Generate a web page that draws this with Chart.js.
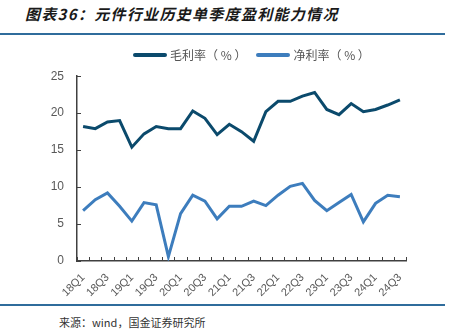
<!DOCTYPE html>
<html>
<head>
<meta charset="utf-8">
<script src="https://cdn.jsdelivr.net/npm/chart.js@4.4.1/dist/chart.umd.min.js"></script>
<style>
  body { margin: 0; background: #fff; width: 453px; height: 331px; position: relative; overflow: hidden;
         font-family: "Noto Sans CJK SC", "Noto Sans", sans-serif; }
  #title { position: absolute; left: 25px; top: 3px; font-size: 15px; font-weight: bold; font-style: italic;
           color: #1a1a1a; letter-spacing: 1.3px; }
  .rule { position: absolute; left: 0; width: 445px; height: 2px; background: #2f6c9c; }
  #legend { position: absolute; top: 46px; left: 133px; display: flex; align-items: center;
            font-size: 12px; color: #555; z-index: 2; }
  .sw { display: inline-block; width: 34px; height: 4px; border-radius: 2px; margin-right: 3px; }
  #source { position: absolute; left: 59px; top: 314px; font-size: 11px; color: #333; }
  #wrap { position: absolute; left: 0; top: 56px; width: 453px; height: 246px; }
</style>
</head>
<body>
<div id="title">图表36：元件行业历史单季度盈利能力情况</div>
<div class="rule" style="top:33px"></div>
<div id="wrap"><canvas id="chart"></canvas></div>
<div id="legend">
  <span class="sw" style="background:#0b4a6c"></span><span style="margin-right:10px">毛利率（ % ）</span>
  <span class="sw" style="background:#3d7dbd"></span><span>净利率（ % ）</span>
</div>
<div class="rule" style="top:304px"></div>
<div id="source">来源：wind，国金证券研究所</div>
<script>
// Quarters 18Q1 .. 24Q3
const quarters = ['18Q1', '18Q2', '18Q3', '18Q4', '19Q1', '19Q2', '19Q3', '19Q4',
                  '20Q1', '20Q2', '20Q3', '20Q4', '21Q1', '21Q2', '21Q3', '21Q4',
                  '22Q1', '22Q2', '22Q3', '22Q4', '23Q1', '23Q2', '23Q3', '23Q4',
                  '24Q1', '24Q2', '24Q3'];
const grossMargin = [18.2, 17.9, 18.8, 19.0, 15.4, 17.2, 18.2, 17.9,
                     17.9, 20.3, 19.3, 17.1, 18.5, 17.5, 16.2, 20.2,
                     21.6, 21.6, 22.3, 22.8, 20.5, 19.8, 21.3, 20.2,
                     20.5, 21.1, 21.8];
const netMargin = [6.8, 8.3, 9.2, 7.4, 5.4, 7.9, 7.6, 0.6,
                   6.4, 8.9, 8.1, 5.7, 7.4, 7.4, 8.1, 7.5,
                   8.9, 10.1, 10.5, 8.2, 6.8, 7.9, 9.0, 5.3,
                   7.8, 8.9, 8.7];
const yTicks = [0, 5, 10, 15, 20, 25];

// inner tick marks on both axes
const innerTicks = {
    id: 'innerTicks',
    afterDraw(chart) {
        const ctx = chart.ctx;
        const x = chart.scales.x, y = chart.scales.y;
        const area = chart.chartArea;
        ctx.save();
        ctx.strokeStyle = '#404040';
        ctx.lineWidth = 1;
        yTicks.forEach(v => {
            const py = Math.round(y.getPixelForValue(v)) + 0.5;
            ctx.beginPath();
            ctx.moveTo(area.left, py);
            ctx.lineTo(area.left + 4, py);
            ctx.stroke();
        });
        const step = x.getPixelForValue(1) - x.getPixelForValue(0);
        for (let i = 0; i <= quarters.length; i++) {
            const px = Math.round(x.getPixelForValue(i) - step / 2) + 0.5;
            ctx.beginPath();
            ctx.moveTo(px, area.bottom);
            ctx.lineTo(px, area.bottom - 4);
            ctx.stroke();
        }
        ctx.restore();
    }
};

new Chart(document.getElementById('chart'), {
    type: 'line',
    data: {
        labels: quarters,
        datasets: [{
            label: '毛利率（%）',
            data: grossMargin,
            borderColor: '#0b4a6c',
            borderWidth: 3,
            pointRadius: 0,
            tension: 0
        }, {
            label: '净利率（%）',
            data: netMargin,
            borderColor: '#3d7dbd',
            borderWidth: 3,
            pointRadius: 0,
            tension: 0
        }]
    },
    options: {
        responsive: true,
        maintainAspectRatio: false,
        animation: false,
        layout: { padding: { top: 2, right: 47, left: 0, bottom: 0 } },
        plugins: { legend: { display: false }, tooltip: { enabled: false } },
        scales: {
            x: {
                offset: true,
                grid: { display: false },
                border: { color: '#404040', width: 1.5 },
                afterFit: s => { s.height = 41; },
                ticks: {
                    autoSkip: false,
                    minRotation: 45,
                    maxRotation: 45,
                    padding: 2,
                    color: '#595959',
                    font: { family: 'Liberation Sans, Arial, sans-serif', size: 11 },
                    callback: (v, i) => i % 2 === 0 ? quarters[i] : ''
                }
            },
            y: {
                min: 0,
                max: 25,
                grid: { display: false, drawTicks: false },
                border: { color: '#404040', width: 1.5 },
                afterFit: s => { s.width = 77; },
                afterBuildTicks: s => { s.ticks = yTicks.map(v => ({ value: v })); },
                ticks: {
                    padding: 13,
                    color: '#595959',
                    font: { family: 'Liberation Sans, Arial, sans-serif', size: 12 }
                }
            }
        }
    },
    plugins: [innerTicks]
});
</script>
</body>
</html>
